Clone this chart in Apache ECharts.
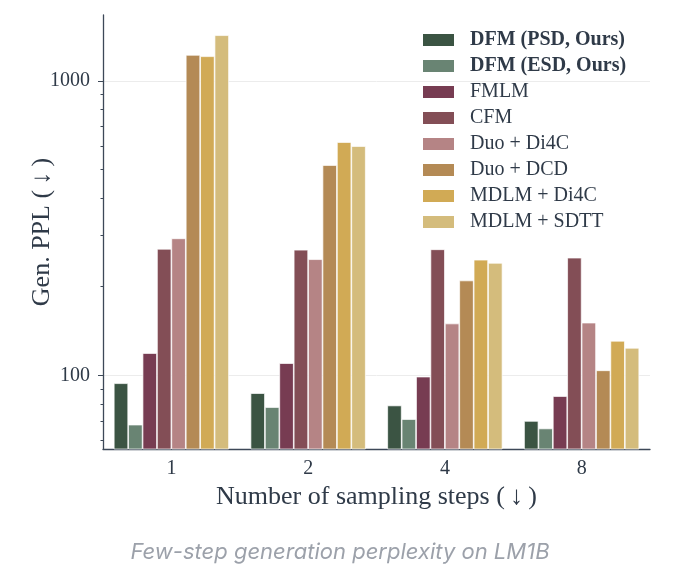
<!DOCTYPE html>
<html>
<head>
<meta charset="utf-8">
<script src="https://cdn.jsdelivr.net/npm/echarts@6/dist/echarts.min.js"></script>
<style>
html,body{margin:0;padding:0;background:#fff;}
#c{width:680px;height:579px;}
</style>
</head>
<body>
<div id="c"></div>
<script>
const steps = ['1', '2', '4', '8'];
const methods = ['DFM (PSD, Ours)', 'DFM (ESD, Ours)', 'FMLM', 'CFM', 'Duo + Di4C', 'Duo + DCD', 'MDLM + Di4C', 'MDLM + SDTT'];
const psd = [94, 87, 79, 70];
const esd = [68, 78, 71, 66];
const fmlm = [119, 110, 99, 85];
const cfm = [269, 267, 268, 251];
const duoDi4c = [292, 248, 150, 151];
const duoDcd = [1226, 518, 210, 104];
const mdlmDi4c = [1213, 620, 247, 131];
const mdlmSdtt = [1430, 601, 241, 124];
const majorTicks = [100, 1000];
const minorTicks = [60, 70, 80, 90, 200, 300, 400, 500, 600, 700, 800, 900];
const yMin = 56.2, yMax = 1675;

const seriesValues = [psd, esd, fmlm, cfm, duoDi4c, duoDcd, mdlmDi4c, mdlmSdtt];
const colors = ['#3b5443', '#698473', '#773c52', '#834e56', '#b58485', '#b48a55', '#d1aa55', '#d4bc7c'];
const ink = '#2f3a48';
const serif = 'Liberation Serif, DejaVu Serif, serif';

const chart = echarts.init(document.getElementById('c'), null, {renderer: 'canvas'});
chart.setOption({
  animation: false,
  color: colors,
  title: {
    text: 'Few-step generation perplexity on LM1B',
    left: 'center',
    top: 536,
    textStyle: {fontFamily: 'Inter', fontStyle: 'italic', fontWeight: 'normal', fontSize: 22, color: '#9ca1aa'}
  },
  legend: {
    orient: 'vertical',
    left: 416,
    top: 25,
    itemWidth: 33,
    itemHeight: 14,
    itemGap: 6,
    icon: 'rect',
    data: methods.map((m, i) => ({
      name: m,
      textStyle: {fontWeight: i < 2 ? 'bold' : 'normal'}
    })),
    textStyle: {fontFamily: serif, fontSize: 20, lineHeight: 20, color: ink, padding: [0, 0, 0, 10]}
  },
  grid: {left: 103, right: 30, top: 15, bottom: 130, containLabel: false},
  xAxis: {
    type: 'category',
    data: steps,
    name: 'Number of sampling steps (\u2009\u2193\u2009)',
    nameLocation: 'middle',
    nameGap: 32,
    nameTextStyle: {fontFamily: serif, fontSize: 26, color: ink},
    axisLine: {lineStyle: {color: '#3d4858', width: 1.3}},
    axisTick: {alignWithLabel: true, length: 5, lineStyle: {color: '#3d4858'}},
    axisLabel: {fontFamily: serif, fontSize: 20, color: ink, margin: 10}
  },
  yAxis: [{
    type: 'log',
    logBase: 10,
    min: yMin,
    max: yMax,
    position: 'left',
    name: 'Gen. PPL (\u2009\u2193\u2009)',
    nameLocation: 'middle',
    nameGap: 48,
    nameMoveOverlap: false,
    nameTextStyle: {fontFamily: serif, fontSize: 26, color: ink},
    axisLine: {show: true, lineStyle: {color: '#3d4858', width: 1.3}},
    axisTick: {show: true, length: 5, customValues: majorTicks, lineStyle: {color: '#3d4858'}},
    axisLabel: {fontFamily: serif, fontSize: 20, color: ink, margin: 13, customValues: majorTicks,
      formatter: v => String(Math.round(v))},
    splitLine: {show: true, lineStyle: {color: '#ececec', width: 1}}
  }, {
    type: 'log',
    logBase: 10,
    min: yMin,
    max: yMax,
    position: 'left',
    axisLine: {show: false},
    axisTick: {show: true, length: 2.5, customValues: minorTicks, lineStyle: {color: '#3d4858'}},
    axisLabel: {show: false},
    splitLine: {show: false}
  }],
  series: seriesValues.map((vals, i) => ({
    name: methods[i],
    type: 'bar',
    yAxisIndex: 0,
    data: vals,
    barWidth: 14.4,
    barGap: '0%',
    itemStyle: {color: colors[i], borderColor: '#ffffff', borderWidth: 0.7}
  }))
});
</script>
</body>
</html>
